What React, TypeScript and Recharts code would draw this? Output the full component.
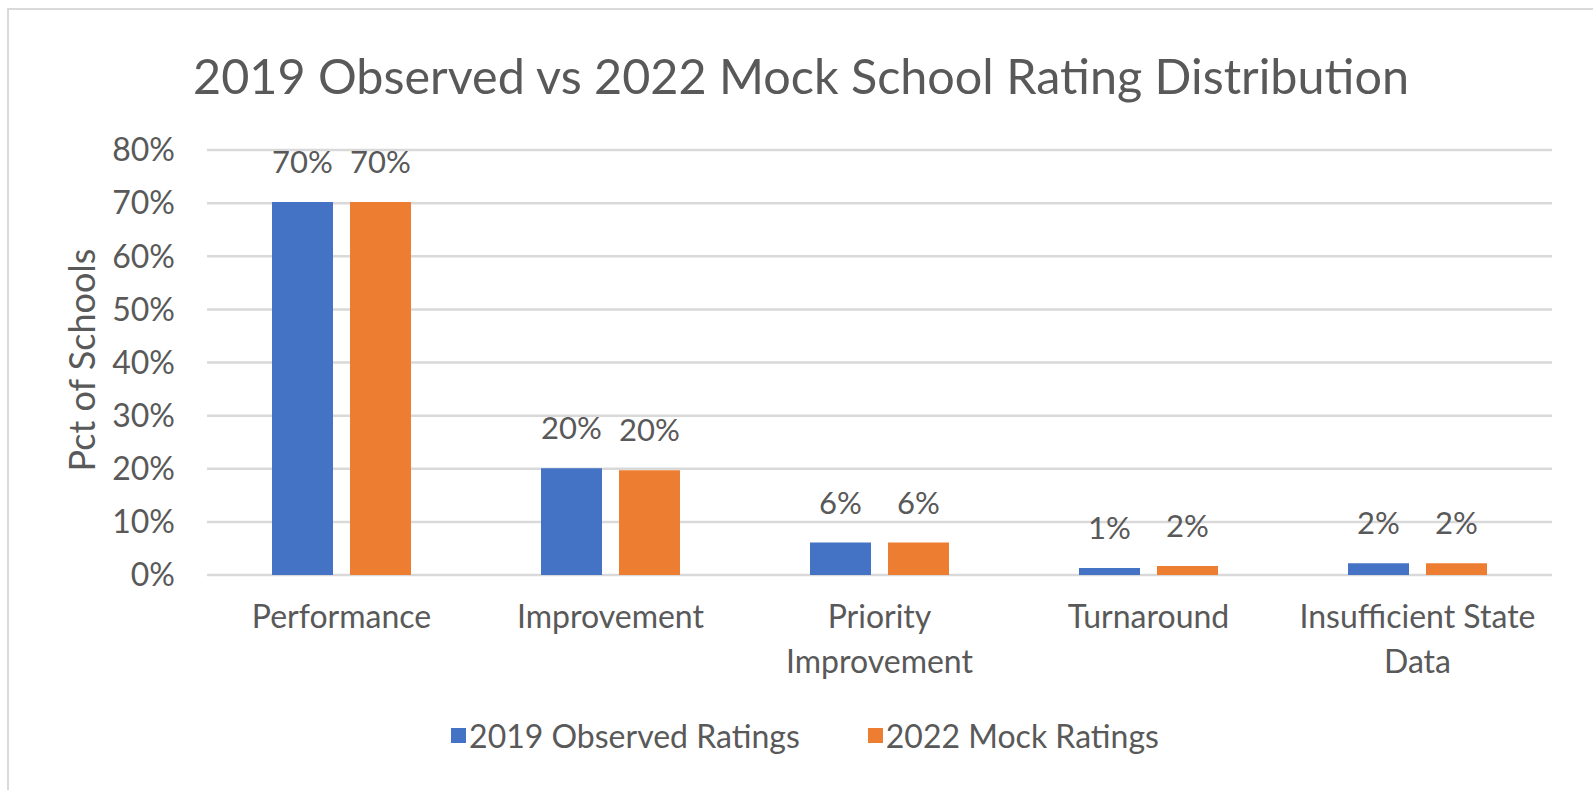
import React from 'react';
import { BarChart, Bar, XAxis, YAxis, CartesianGrid, Legend, LabelList } from 'recharts';

const categories = ['Performance', 'Improvement', 'Priority Improvement', 'Turnaround', 'Insufficient State Data'];
const observed2019 = [70.2, 20.1, 6.1, 1.3, 2.2];
const mock2022 = [70.2, 19.7, 6.1, 1.7, 2.2];
const yTicks = [0, 10, 20, 30, 40, 50, 60, 70, 80];

const seriesNames = { observed: '2019 Observed Ratings', mock: '2022 Mock Ratings' };
const BLUE = '#4472C4';
const ORANGE = '#ED7D31';
const TEXT = '#595959';
const FONT = 'Lato, "Open Sans", sans-serif';

const data = categories.map((name, i) => ({
  name,
  observed: observed2019[i],
  mock: mock2022[i],
}));

// wrap long category names the way Excel does
const wrapLabel = (s: string, max = 18) => {
  const lines: string[] = [];
  let cur = '';
  s.split(' ').forEach((w) => {
    if (cur && (cur + ' ' + w).length > max) {
      lines.push(cur);
      cur = w;
    } else {
      cur = cur ? cur + ' ' + w : w;
    }
  });
  if (cur) lines.push(cur);
  return lines;
};

const CategoryTick = (props: any) => {
  const { x, y, payload } = props;
  const lines = wrapLabel(payload.value);
  return (
    <g transform={`translate(${x},${y})`}>
      {lines.map((l, i) => (
        <text key={i} x={0} y={45 + i * 45} textAnchor="middle" fill={TEXT} fontSize={32} fontFamily={FONT}>
          {l}
        </text>
      ))}
    </g>
  );
};

const TopLabel = (props: any) => {
  const { x, y, width, value } = props;
  return (
    <text x={x + width / 2} y={y - 29} textAnchor="middle" fill={TEXT} fontSize={31} fontFamily={FONT}>
      {Math.round(value)}%
    </text>
  );
};

const LegendContent = () => (
  <div style={{ display: 'flex', justifyContent: 'center', alignItems: 'center', fontFamily: FONT, fontSize: 32, color: TEXT }}>
    <span style={{ display: 'inline-block', width: 15, height: 15, background: BLUE, marginRight: 3 }} />
    <span style={{ marginRight: 68 }}>{seriesNames.observed}</span>
    <span style={{ display: 'inline-block', width: 15, height: 15, background: ORANGE, marginRight: 3 }} />
    <span>{seriesNames.mock}</span>
  </div>
);

export default function App() {
  return (
    <div style={{ position: 'absolute', left: 0, top: 0, width: 1593, height: 790, background: '#fff', overflow: 'hidden' }}>
      <div
        style={{
          position: 'absolute',
          left: 7,
          top: 8,
          width: 1640,
          height: 840,
          borderLeft: '2px solid #d9d9d9',
          borderTop: '2px solid #d9d9d9',
        }}
      />
      <div
        style={{
          position: 'absolute',
          left: 0,
          top: 45,
          width: 1602,
          textAlign: 'center',
          lineHeight: '60px',
          fontFamily: FONT,
          fontSize: 48.5,
          color: TEXT,
          whiteSpace: 'nowrap',
        }}
      >
        2019 Observed vs 2022 Mock School Rating Distribution
      </div>
      <div
        style={{
          position: 'absolute',
          left: 81,
          top: 360,
          transform: 'translate(-50%, -50%) rotate(-90deg)',
          fontFamily: FONT,
          fontSize: 36,
          color: TEXT,
          whiteSpace: 'nowrap',
        }}
      >
        Pct of Schools
      </div>
      <BarChart
        width={1593}
        height={790}
        data={data}
        margin={{ top: 150, right: 41, bottom: 115, left: 107 }}
        barCategoryGap={65}
        barGap={17}
        style={{ position: 'absolute', left: 0, top: 0 }}
      >
        <CartesianGrid vertical={false} stroke="#d9d9d9" strokeWidth={2.5} />
        <XAxis dataKey="name" height={100} axisLine={false} tickLine={false} tick={<CategoryTick />} interval={0} />
        <YAxis
          width={100}
          domain={[0, 80]}
          ticks={yTicks}
          axisLine={false}
          tickLine={false}
          tickMargin={26}
          tickFormatter={(v: number) => `${v}%`}
          tick={{ fill: TEXT, fontSize: 32, fontFamily: FONT }}
        />
        <Legend
          layout="horizontal"
          align="center"
          verticalAlign="middle"
          content={<LegendContent />}
          wrapperStyle={{ top: 716, left: 0, width: 1610 }}
        />
        <Bar dataKey="observed" name={seriesNames.observed} fill={BLUE} isAnimationActive={false}>
          <LabelList dataKey="observed" content={<TopLabel />} />
        </Bar>
        <Bar dataKey="mock" name={seriesNames.mock} fill={ORANGE} isAnimationActive={false}>
          <LabelList dataKey="mock" content={<TopLabel />} />
        </Bar>
      </BarChart>
    </div>
  );
}
